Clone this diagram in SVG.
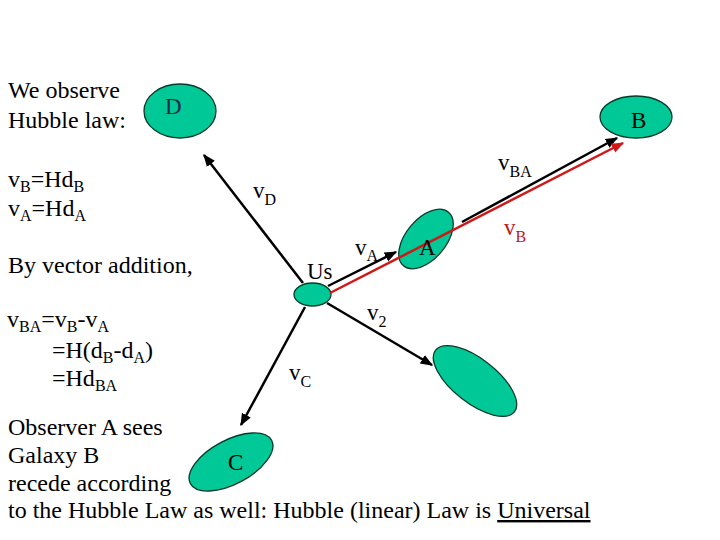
<svg xmlns="http://www.w3.org/2000/svg" width="720" height="540" viewBox="0 0 720 540">
<style>
text{font-family:"Liberation Serif","Times New Roman",serif;fill:#000}
.t{font-size:24px}
.s{font-size:16px}
.lb{font-size:23px}
.g{fill:#00c896;stroke:#0a3a2a;stroke-width:1.3}
.k{stroke:#000;stroke-width:2.5;fill:none}
.r{stroke:#d01818;stroke-width:2.5;fill:none}
</style>
<defs>
<marker id="ak" viewBox="0 0 10 10" refX="9" refY="5" markerWidth="5" markerHeight="5" orient="auto" markerUnits="strokeWidth"><path d="M0,1 L10,5 L0,9 z" fill="#000"/></marker>
<marker id="ar" viewBox="0 0 10 10" refX="9" refY="5" markerWidth="5" markerHeight="5" orient="auto" markerUnits="strokeWidth"><path d="M0,1 L10,5 L0,9 z" fill="#d01818"/></marker>
</defs>
<rect width="720" height="540" fill="#fff"/>

<g id="nodeD"><ellipse class="g" cx="180" cy="111" rx="36" ry="27"/><text class="lb" x="165" y="114" style="fill:#1a2a50">D</text></g>
<g id="nodeB"><ellipse class="g" cx="636" cy="117" rx="36" ry="21"/><text class="lb" x="631" y="128">B</text></g>
<g id="nodeUs"><ellipse class="g" cx="312.5" cy="294.5" rx="18.5" ry="11.5"/></g>
<g id="nodeA"><ellipse class="g" cx="426" cy="239" rx="35" ry="20" transform="rotate(-50 426 239)"/></g>
<g id="nodeE"><ellipse class="g" cx="475" cy="381" rx="50" ry="22" transform="rotate(38 475 381)"/></g>
<g id="nodeC"><ellipse class="g" cx="231" cy="462" rx="46" ry="22" transform="rotate(-28 231 462)"/><text class="lb" x="228" y="470">C</text></g>

<g id="connectors">
<line class="k" x1="303" y1="283" x2="204" y2="155" marker-end="url(#ak)"/>
<line class="k" x1="328" y1="286" x2="396" y2="252" marker-end="url(#ak)"/>
<line class="k" x1="462" y1="222" x2="617" y2="138" marker-end="url(#ak)"/>
<line class="k" x1="327" y1="303" x2="432" y2="365" marker-end="url(#ak)"/>
<line class="k" x1="305" y1="307" x2="241" y2="425" marker-end="url(#ak)"/>
<line class="r" x1="330" y1="293" x2="623" y2="143" marker-end="url(#ar)"/>
</g>

<g id="labels">
<text class="lb" x="419" y="255">A</text>
<text class="lb" x="307" y="279">Us</text>
<text class="lb" x="253" y="198">v<tspan class="s" dy="7">D</tspan></text>
<text class="lb" x="498" y="170">v<tspan class="s" dy="7">BA</tspan></text>
<text class="lb" x="355" y="255">v<tspan class="s" dy="6">A</tspan></text>
<text class="lb" x="504" y="235" style="fill:#c01818">v<tspan class="s" dy="7">B</tspan></text>
<text class="lb" x="367" y="320">v<tspan class="s" dy="7">2</tspan></text>
<text class="lb" x="289" y="380">v<tspan class="s" dy="7">C</tspan></text>
</g>

<g id="text">
<text class="t" x="8" y="98">We observe</text>
<text class="t" x="8" y="128">Hubble law:</text>
<text class="t" x="8" y="187">v<tspan class="s" dy="5">B</tspan><tspan dy="-5">=Hd</tspan><tspan class="s" dy="5">B</tspan></text>
<text class="t" x="8" y="216">v<tspan class="s" dy="5">A</tspan><tspan dy="-5">=Hd</tspan><tspan class="s" dy="5">A</tspan></text>
<text class="t" x="8" y="273">By vector addition,</text>
<text class="t" x="7" y="327">v<tspan class="s" dy="5">BA</tspan><tspan dy="-5">=v</tspan><tspan class="s" dy="5">B</tspan><tspan dy="-5">-v</tspan><tspan class="s" dy="5">A</tspan></text>
<text class="t" x="52" y="358">=H(d<tspan class="s" dy="5">B</tspan><tspan dy="-5">-d</tspan><tspan class="s" dy="5">A</tspan><tspan dy="-5">)</tspan></text>
<text class="t" x="52" y="386">=Hd<tspan class="s" dy="5">BA</tspan></text>
<text class="t" x="8" y="435">Observer A sees</text>
<text class="t" x="8" y="463">Galaxy B</text>
<text class="t" x="8" y="491">recede according</text>
<text class="t" x="8" y="518">to the Hubble Law as well: Hubble (linear) Law is <tspan text-decoration="underline">Universal</tspan></text>
</g>
</svg>
